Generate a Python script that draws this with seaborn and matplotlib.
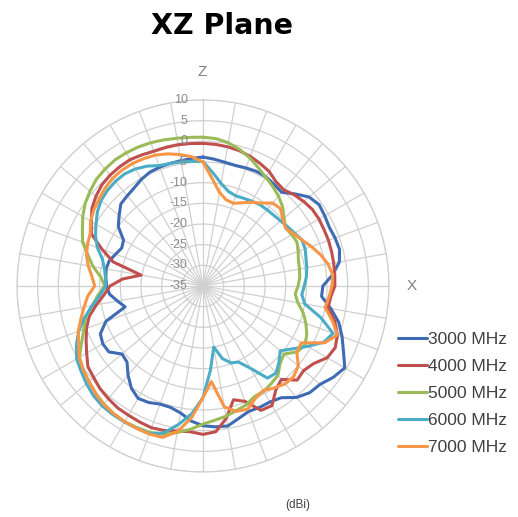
import numpy as np
import pandas as pd
import matplotlib
matplotlib.use("Agg")
import matplotlib.pyplot as plt
import matplotlib.transforms as mtransforms
import seaborn as sns

# =====================================================
# DATA (gain in dBi, every 5 degrees, clockwise from Z)
# =====================================================
angles_deg = list(range(0, 360, 5))

gain_3000 = [
    -3.8, -4.2, -4.6, -4.8, -4.6, -4.4, -4.5, -5.0, -5.4, -3.5, -1.5, -0.7,
    -1.0, -1.3, -1.0, -0.8, -1.5, -3.5, -6.0, -6.2, -3.6, -1.0, 0.8, 2.5,
    4.6, 3.5, 2.0, 1.5, 0.2, -2.0, -2.6, -2.6, -2.7, -1.8, -0.6, -0.8,
    -1.2, -2.2, -3.8, -4.6, -4.6, -3.9, -3.6, -4.8, -6.8, -9.0, -9.4, -7.2,
    -7.0, -7.6, -10.0, -15.5, -14.0, -12.3, -11.7, -11.4, -11.2, -11.5, -12.5, -13.3,
    -12.8, -10.0, -8.5, -6.9, -6.5, -6.0, -5.2, -4.6, -4.4, -4.3, -4.2, -4.0,
]
gain_4000 = [
    -0.5, -0.6, -0.8, -1.1, -1.6, -2.3, -3.0, -4.2, -4.6, -3.8, -3.2, -2.7,
    -2.6, -2.7, -2.7, -2.8, -2.9, -3.0, -3.1, -4.0, -4.3, -2.0, -0.4, 0.3,
    -0.3, -2.3, -3.2, -2.8, -5.5, -4.3, -1.6, -1.8, -5.3, -6.5, -2.5, 0.4,
    0.9, 0.4, 0.6, 1.2, 1.5, 1.3, 1.1, 1.0, 0.6, 0.2, -0.5, -1.0,
    -2.5, -3.8, -5.0, -6.5, -8.8, -11.0, -12.5, -15.5, -19.8, -12.5, -9.0, -5.2,
    -3.8, -2.2, -1.2, -0.4, 0.0, 0.2, 0.3, 0.0, -0.3, -0.3, -0.3, -0.4,
]
gain_5000 = [
    1.0, 0.8, 0.2, -0.8, -2.0, -3.4, -4.6, -5.6, -6.6, -7.8, -9.4, -10.6,
    -10.2, -9.9, -10.5, -11.1, -11.3, -11.5, -12.0, -12.6, -11.7, -9.9, -8.5, -7.3,
    -6.5, -7.2, -9.4, -8.6, -6.8, -6.2, -5.6, -5.5, -4.4, -3.8, -3.0, -2.4,
    -1.6, -0.2, 1.0, 2.1, 2.7, 2.8, 2.9, 2.7, 2.3, 1.7, 1.0, 0.4,
    -0.5, -2.6, -4.3, -5.6, -7.8, -9.5, -11.2, -10.2, -8.0, -6.2, -4.0, -2.8,
    -1.4, -0.2, 0.7, 1.5, 1.9, 2.2, 2.2, 2.1, 1.9, 1.6, 1.3, 1.1,
]
gain_6000 = [
    -4.9, -7.5, -9.8, -11.3, -11.8, -11.6, -11.3, -11.0, -10.9, -10.8, -10.5, -10.0,
    -9.4, -8.6, -8.7, -9.2, -9.5, -9.9, -10.5, -11.0, -10.0, -5.5, -1.5, -2.8,
    -5.8, -8.5, -10.6, -9.0, -7.5, -7.8, -12.0, -14.7, -15.2, -16.8, -20.0, -14.5,
    -8.0, -4.0, -1.0, 1.8, 3.0, 3.0, 3.0, 3.0, 2.9, 2.5, 1.8, 1.0,
    0.3, -1.2, -3.0, -5.3, -7.8, -10.0, -11.5, -11.3, -10.8, -9.8, -7.8, -6.3,
    -5.1, -3.8, -2.8, -2.3, -2.0, -1.9, -2.3, -3.0, -4.0, -4.3, -4.5, -4.7,
]
gain_7000 = [
    -5.0, -9.0, -12.0, -13.4, -13.7, -12.8, -11.6, -10.5, -8.8, -8.5, -9.8, -10.6,
    -9.7, -8.6, -7.1, -5.6, -4.3, -3.5, -3.8, -4.4, -5.0, -2.6, -0.4, -2.5,
    -7.5, -7.3, -4.9, -4.0, -4.1, -4.9, -5.8, -5.0, -3.3, -3.6, -5.3, -11.8,
    -8.0, -3.0, 0.8, 2.9, 3.1, 3.0, 2.9, 2.7, 2.4, 1.8, 1.0, 0.4,
    -0.4, -1.8, -2.9, -4.4, -5.8, -7.0, -8.8, -8.0, -6.8, -5.8, -5.3, -4.9,
    -3.6, -2.8, -2.2, -1.5, -1.0, -0.8, -0.8, -1.0, -1.3, -1.9, -2.7, -3.6,
]

freq_labels = ["3000 MHz", "4000 MHz", "5000 MHz", "6000 MHz", "7000 MHz"]
line_colors = ["#3E6BB3", "#C0504D", "#9BBB59", "#4BACC6", "#F79646"]
r_ticks = [-35, -30, -25, -20, -15, -10, -5, 0, 5, 10]

# =====================================================
# LONG FORM TABLE (closed loops)
# =====================================================
all_gains = [gain_3000, gain_4000, gain_5000, gain_6000, gain_7000]
rows = []
for label, gains in zip(freq_labels, all_gains):
    ang = angles_deg + [360]
    val = gains + [gains[0]]
    for a, g in zip(ang, val):
        rows.append({"theta": np.deg2rad(a), "gain": g, "freq": label})
df = pd.DataFrame(rows)

# =====================================================
# PLOT
# =====================================================
sns.set_style("white")
plt.rcParams["font.family"] = ["Liberation Sans", "DejaVu Sans"]

fig = plt.figure(figsize=(5.18, 5.17), dpi=100)
ax = fig.add_axes([17 / 518, 45 / 517, 372 / 518, 372 / 517], projection="polar")
ax.set_theta_zero_location("N")
ax.set_theta_direction(-1)

sns.lineplot(
    data=df,
    x="theta",
    y="gain",
    hue="freq",
    hue_order=freq_labels,
    palette=dict(zip(freq_labels, line_colors)),
    sort=False,
    estimator=None,
    linewidth=2.2,
    ax=ax
)

ax.set_ylim(-35, 10)
ax.set_yticks(r_ticks)
ax.set_yticklabels([])
ax.set_xticks(np.deg2rad(np.arange(0, 360, 10)))
ax.set_xticklabels([])
ax.grid(True, color="#d0d0d0", linewidth=0.9)
ax.spines["polar"].set_color("#d0d0d0")
ax.spines["polar"].set_linewidth(0.9)
ax.set_xlabel("")
ax.set_ylabel("")

# radial tick labels along the top spoke
lab_trans = mtransforms.offset_copy(ax.transData, fig=fig, x=-11, y=0, units="points")
for r in r_ticks:
    ax.text(0, r, str(r), transform=lab_trans, ha="right", va="center",
            fontsize=9, color="#8c8c8c")

# legend
sns.move_legend(
    ax,
    "upper left",
    bbox_to_anchor=(382 / 518, 1 - 316 / 517),
    bbox_transform=fig.transFigure,
    frameon=False,
    title=None,
    fontsize=12.5,
    handlelength=1.7,
    handletextpad=0.05,
    labelspacing=0.68,
    labelcolor="#404040"
)

# texts
fig.text(222 / 518, 1 - 26 / 517, "XZ Plane", ha="center", va="center",
         fontsize=20.5, fontweight="bold", family="DejaVu Sans", color="black")
fig.text(202 / 518, 1 - 72 / 517, "Z", ha="center", va="center",
         fontsize=11, color="#808080")
fig.text(412 / 518, 1 - 286 / 517, "X", ha="center", va="center",
         fontsize=11, color="#808080")
fig.text(298 / 518, 1 - 505 / 517, "(dBi)", ha="center", va="center",
         fontsize=8.5, color="#404040")

fig.savefig("out.png", dpi=100)
